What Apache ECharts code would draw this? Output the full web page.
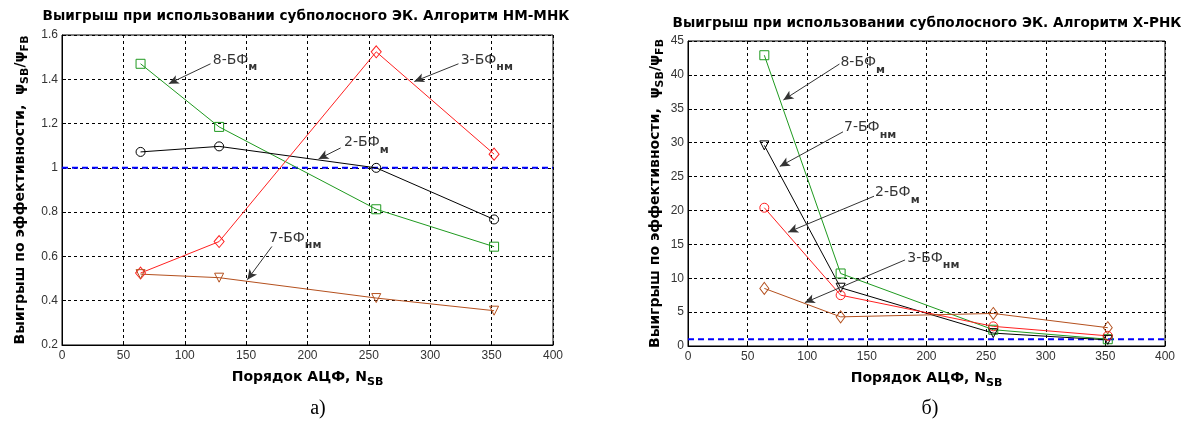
<!DOCTYPE html>
<html>
<head>
<meta charset="utf-8">
<script src="https://cdn.jsdelivr.net/npm/echarts@6/dist/echarts.min.js"></script>
<style>
  html, body { margin: 0; padding: 0; background: #fff; }
  #chart { width: 1184px; height: 421px; }
</style>
</head>
<body>
<div id="chart"></div>
<script>
// filter orders (x axis)
const orders = [64, 128, 256, 352];
const xTicks = [0, 50, 100, 150, 200, 250, 300, 350, 400];

// а) algorithm НМ-МНК
const nmTicks = [0.2, 0.4, 0.6, 0.8, 1, 1.2, 1.4, 1.6];
const nmGreen8 = [1.47, 1.185, 0.813, 0.644];
const nmBlack2 = [1.072, 1.097, 1.0, 0.767];
const nmRed3 = [0.525, 0.667, 1.524, 1.062];
const nmBrown7 = [0.52, 0.504, 0.412, 0.355];

// б) algorithm Х-РНК
const xrTicks = [0, 5, 10, 15, 20, 25, 30, 35, 40, 45];
const xrGreen8 = [42.9, 10.7, 2.4, 1.0];
const xrBlack7 = [29.6, 8.6, 1.9, 0.9];
const xrRed2 = [20.4, 7.5, 2.9, 1.5];
const xrBrown3 = [8.5, 4.3, 4.8, 2.7];

// reference level (gain = 1)
const refX = [0, 400];
const refY = [1, 1];

// annotations: [text, subscript, x, y] and arrows [x1, y1, x2, y2]
const nmLabels = [
  ['8-БФ', 'м', 122, 1.487],
  ['3-БФ', 'нм', 324, 1.487],
  ['2-БФ', 'м', 229, 1.113],
  ['7-БФ', 'нм', 168, 0.683]
];
const nmArrows = [
  [121, 1.47, 87, 1.38],
  [323, 1.47, 287, 1.39],
  [227, 1.09, 209, 1.04],
  [171, 0.645, 151, 0.495]
];
const xrLabels = [
  ['8-БФ', 'м', 127, 41.8],
  ['7-БФ', 'нм', 130, 32.2],
  ['2-БФ', 'м', 156, 22.6],
  ['3-БФ', 'нм', 183, 13.0]
];
const xrArrows = [
  [127, 41.6, 80, 36.3],
  [130, 31.6, 77, 26.5],
  [156, 22.1, 84, 16.8],
  [182, 12.7, 98, 6.4]
];

const chart = echarts.init(document.getElementById('chart'));

const tickFont = { fontFamily: 'Liberation Sans', fontSize: 12, color: '#333' };
const nameRich = {
  t: { fontFamily: 'DejaVu Sans', fontWeight: 'bold', fontSize: 14, color: '#000' },
  s: { fontFamily: 'DejaVu Sans', fontWeight: 'bold', fontSize: 11, color: '#000', padding: [10, 0, 0, 0] }
};
const dashed = { color: '#000', width: 1, type: [3, 3] };

function xAxis(gridIndex) {
  return {
    type: 'value', gridIndex,
    min: xTicks[0], max: xTicks[xTicks.length - 1], interval: xTicks[1] - xTicks[0],
    name: '{t|Порядок АЦФ, N}{s|SB}',
    nameLocation: 'middle', nameGap: 22,
    nameTextStyle: { rich: nameRich },
    axisLine: { lineStyle: { color: '#000' } },
    axisTick: { inside: true, length: 4, lineStyle: { color: '#000' } },
    axisLabel: Object.assign({ margin: 5 }, tickFont),
    splitLine: { show: true, lineStyle: dashed }
  };
}

function yAxis(gridIndex, ticks, gap) {
  return {
    type: 'value', gridIndex,
    min: ticks[0], max: ticks[ticks.length - 1], interval: ticks[1] - ticks[0],
    name: '{t|Выигрыш по эффективности,  ψ}{s|SB}{t|/ψ}{s|FB}',
    nameLocation: 'middle', nameGap: gap, nameRotate: 90,
    nameTextStyle: { rich: nameRich },
    axisLine: { lineStyle: { color: '#000' } },
    axisTick: { inside: true, length: 4, lineStyle: { color: '#000' } },
    axisLabel: Object.assign({ margin: 4 }, tickFont),
    splitLine: { show: true, lineStyle: dashed }
  };
}

function curve(idx, values, color, symbol, size, rotate) {
  return {
    type: 'line', xAxisIndex: idx, yAxisIndex: idx,
    data: orders.map((x, i) => [x, values[i]]),
    symbol, symbolSize: size, symbolRotate: rotate || 0,
    showAllSymbol: true,
    lineStyle: { color, width: 1 },
    itemStyle: { color: 'rgba(0,0,0,0)', borderColor: color, borderWidth: 1 },
    z: 3
  };
}

function refLine(idx, arrows) {
  return {
    type: 'line', xAxisIndex: idx, yAxisIndex: idx,
    data: refX.map((x, i) => [x, refY[i]]),
    symbol: 'none',
    lineStyle: { color: '#0000ff', width: 2, type: [6, 4] },
    z: 2,
    markLine: {
      silent: true, animation: false,
      symbol: ['none', 'arrow'], symbolSize: [7, 10],
      label: { show: false },
      lineStyle: { color: '#333', width: 1, type: 'solid' },
      data: arrows.map(a => [{ coord: [a[0], a[1]] }, { coord: [a[2], a[3]] }])
    }
  };
}

function labels(idx, items) {
  return {
    type: 'scatter', xAxisIndex: idx, yAxisIndex: idx,
    symbolSize: 0, silent: true, z: 5,
    data: items.map(l => ({ value: [l[2], l[3]], name: l[0], sub: l[1] })),
    label: {
      show: true, position: 'right', distance: 1,
      formatter: p => '{a|' + p.data.name + '}{s|' + p.data.sub + '}',
      rich: {
        a: { fontFamily: 'DejaVu Sans', fontSize: 14, color: '#000' },
        s: { fontFamily: 'DejaVu Sans', fontWeight: 'bold', fontSize: 11, color: '#000', padding: [14, 0, 0, 0] }
      }
    }
  };
}

const titleFont = 'bold 13.6px "DejaVu Sans"';

const option = {
  animation: false,
  backgroundColor: '#fff',
  grid: [
    { left: 62, top: 35, width: 491, height: 310, show: true, borderColor: '#000', borderWidth: 1 },
    { left: 688, top: 41, width: 477, height: 305, show: true, borderColor: '#000', borderWidth: 1 }
  ],
  xAxis: [xAxis(0), xAxis(1)],
  yAxis: [yAxis(0, nmTicks, 31), yAxis(1, xrTicks, 22)],
  graphic: [
    { type: 'text', x: 306, y: 16, style: { text: 'Выигрыш при использовании субполосного ЭК. Алгоритм НМ-МНК', font: titleFont, textAlign: 'center', textVerticalAlign: 'middle', fill: '#000' } },
    { type: 'text', x: 927, y: 23, style: { text: 'Выигрыш при использовании субполосного ЭК. Алгоритм Х-РНК', font: titleFont, textAlign: 'center', textVerticalAlign: 'middle', fill: '#000' } },
    { type: 'text', x: 318, y: 409, style: { text: 'а)', font: '20px "Liberation Serif"', textAlign: 'center', textVerticalAlign: 'middle', fill: '#000' } },
    { type: 'text', x: 930, y: 409, style: { text: 'б)', font: '20px "Liberation Serif"', textAlign: 'center', textVerticalAlign: 'middle', fill: '#000' } }
  ],
  series: [
    refLine(0, nmArrows),
    curve(0, nmGreen8, '#1f9a1f', 'rect', 9),
    curve(0, nmBlack2, '#000000', 'circle', 9),
    curve(0, nmRed3, '#ff2020', 'diamond', [10, 12]),
    curve(0, nmBrown7, '#b4501e', 'triangle', 9, 180),
    labels(0, nmLabels),
    refLine(1, xrArrows),
    curve(1, xrGreen8, '#1f9a1f', 'rect', 9),
    curve(1, xrBlack7, '#000000', 'triangle', 9, 180),
    curve(1, xrRed2, '#ff2020', 'circle', 9),
    curve(1, xrBrown3, '#b4501e', 'diamond', [9, 12]),
    labels(1, xrLabels)
  ]
};

chart.setOption(option);
window.addEventListener('resize', () => chart.resize());
</script>
</body>
</html>
